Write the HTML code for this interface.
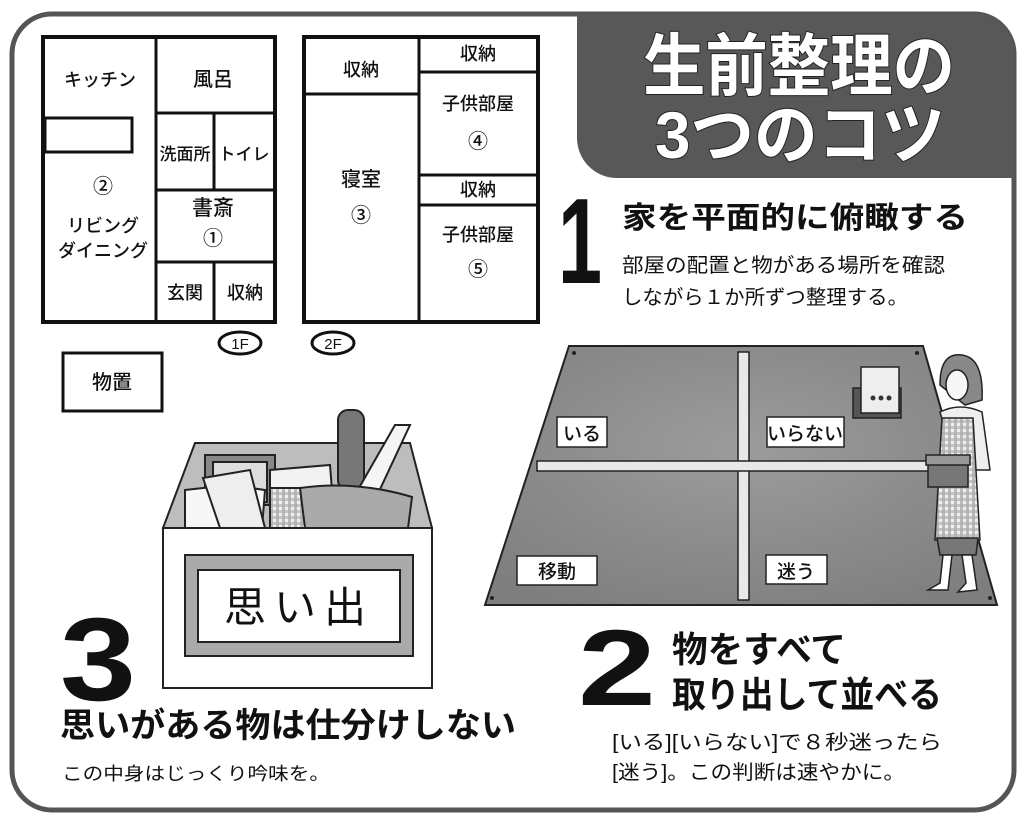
<!DOCTYPE html>
<html><head><meta charset="utf-8"><style>
html,body{margin:0;padding:0;background:#fff;}
svg{display:block;}
text{font-family:"Liberation Sans","Noto Sans CJK JP",sans-serif;}
.j{font-family:"Noto Sans CJK JP",sans-serif;}
</style></head><body>
<svg width="1024" height="824" viewBox="0 0 1024 824" xmlns="http://www.w3.org/2000/svg">
<defs>
<radialGradient id="mat" cx="50%" cy="40%" r="70%"><stop offset="0" stop-color="#9c9c9c"/><stop offset="1" stop-color="#7e7e7e"/></radialGradient>
<pattern id="chk" width="6" height="6" patternUnits="userSpaceOnUse"><rect width="6" height="6" fill="#eee"/><rect width="3" height="6" fill="#bbb"/><rect width="6" height="3" fill="#aaa" opacity=".6"/></pattern>
</defs>
<rect x="12" y="14" width="1002" height="796" rx="40" fill="#fff" stroke="#555" stroke-width="5"/>
<path d="M577 14 H974 A40 40 0 0 1 1014 54 V178 H617 A40 40 0 0 1 577 138 Z" fill="#585858"/>
<g fill="#fff" stroke="#222" stroke-width="2" paint-order="stroke" font-weight="bold" class="j">
<text x="643" y="90" font-size="68" textLength="312" lengthAdjust="spacingAndGlyphs">生前整理の</text>
<text x="655" y="158" font-size="66" textLength="290" lengthAdjust="spacingAndGlyphs">3つのコツ</text>
</g>

<g fill="none" stroke="#111" stroke-width="3">
<rect x="43" y="37" width="232" height="285" stroke-width="4"/>
<line x1="156" y1="37" x2="156" y2="322"/>
<rect x="45" y="118" width="87" height="34"/>
<line x1="156" y1="113" x2="275" y2="113"/>
<line x1="214" y1="113" x2="214" y2="190"/>
<line x1="156" y1="190" x2="275" y2="190"/>
<line x1="156" y1="262" x2="275" y2="262"/>
<line x1="214" y1="262" x2="214" y2="322"/>
<rect x="304" y="37" width="234" height="285" stroke-width="4"/>
<line x1="419" y1="37" x2="419" y2="322"/>
<line x1="304" y1="94" x2="419" y2="94"/>
<line x1="419" y1="72" x2="538" y2="72"/>
<line x1="419" y1="175" x2="538" y2="175"/>
<line x1="419" y1="205" x2="538" y2="205"/>
<ellipse cx="240" cy="343" rx="21" ry="11"/>
<ellipse cx="333" cy="343" rx="21" ry="11"/>
<rect x="63" y="353" width="99" height="58"/>
</g>
<g class="j" font-size="18" font-weight="500" fill="#111" text-anchor="middle">
<text x="100" y="86">キッチン</text>
<text x="213" y="86" font-size="20">風呂</text>
<text x="185" y="160" font-size="17">洗面所</text>
<text x="244" y="160" font-size="17">トイレ</text>
<text x="103" y="193" font-size="20">②</text>
<text x="103" y="232">リビング</text>
<text x="103" y="257">ダイニング</text>
<text x="213" y="215" font-size="21">書斎</text>
<text x="213" y="245" font-size="20">①</text>
<text x="185" y="299">玄関</text>
<text x="245" y="299">収納</text>
<text x="361" y="76">収納</text>
<text x="478" y="60">収納</text>
<text x="478" y="110">子供部屋</text>
<text x="478" y="148" font-size="20">④</text>
<text x="478" y="196">収納</text>
<text x="478" y="241">子供部屋</text>
<text x="478" y="276" font-size="20">⑤</text>
<text x="361" y="186" font-size="20">寝室</text>
<text x="361" y="222" font-size="20">③</text>
<text x="240" y="349" font-size="15">1F</text>
<text x="333" y="349" font-size="15">2F</text>
<text x="112" y="389" font-size="20">物置</text>
</g>

<text x="558" y="283" font-size="122" font-weight="bold" textLength="44" lengthAdjust="spacingAndGlyphs" fill="#111">1</text>
<g class="j" fill="#111">
<text x="622" y="228" font-size="30" font-weight="bold" textLength="346" lengthAdjust="spacingAndGlyphs">家を平面的に俯瞰する</text>
<text x="622" y="272" font-size="20" textLength="323" lengthAdjust="spacingAndGlyphs">部屋の配置と物がある場所を確認</text>
<text x="622" y="304" font-size="20" textLength="286" lengthAdjust="spacingAndGlyphs">しながら１か所ずつ整理する。</text>
</g>

<polygon points="569,346 923,346 997,605 485,605" fill="url(#mat)" stroke="#222" stroke-width="2"/>
<g fill="#222"><circle cx="574" cy="353" r="2"/><circle cx="917" cy="353" r="2"/><circle cx="492" cy="598" r="2"/><circle cx="990" cy="598" r="2"/></g>
<rect x="738" y="352" width="11" height="248" fill="#e8e8e8" stroke="#222" stroke-width="1.5"/>
<rect x="537" y="461" width="395" height="10" fill="#e8e8e8" stroke="#222" stroke-width="1.5"/>
<g fill="#fff" stroke="#222" stroke-width="1.5">
<rect x="557" y="417" width="50" height="30"/>
<rect x="767" y="417" width="77" height="30"/>
<rect x="517" y="556" width="80" height="29"/>
<rect x="766" y="555" width="61" height="29"/>
</g>
<g class="j" font-size="19" font-weight="500" fill="#111" text-anchor="middle">
<text x="582" y="440">いる</text>
<text x="805" y="440">いらない</text>
<text x="557" y="578">移動</text>
<text x="796" y="578">迷う</text>
</g>
<rect x="853" y="388" width="48" height="30" fill="#555" stroke="#222" stroke-width="1.5"/>
<rect x="861" y="367" width="38" height="46" fill="#eee" stroke="#222" stroke-width="1.5"/>
<g fill="#333"><circle cx="873" cy="398" r="2.5"/><circle cx="881" cy="398" r="2.5"/><circle cx="889" cy="398" r="2.5"/></g>
<g stroke="#222" stroke-width="1.5">
<path d="M940 385 Q940 352 962 355 Q984 358 982 400 L965 405 Z" fill="#888"/>
<ellipse cx="957" cy="385" rx="11" ry="15" fill="#f7f7f7"/>
<path d="M940 412 Q960 402 982 412 L990 470 L975 470 L970 440 L948 440 Z" fill="#eee"/>
<path d="M942 418 L973 418 L980 540 L935 540 Z" fill="url(#chk)"/>
<path d="M937 538 L978 538 L976 555 L940 555 Z" fill="#777"/>
<path d="M943 555 L940 583 L928 590 L948 590 L952 555 Z M962 555 L966 583 L958 592 L977 590 L972 555 Z" fill="#fff"/>
<rect x="928" y="462" width="40" height="25" fill="#777"/>
<rect x="926" y="455" width="44" height="10" fill="#999"/>
</g>

<text x="578" y="705" font-size="108" font-weight="bold" textLength="78" lengthAdjust="spacingAndGlyphs" fill="#111">2</text>
<g class="j" fill="#111">
<text x="672" y="662" font-size="36" font-weight="bold" textLength="174" lengthAdjust="spacingAndGlyphs">物をすべて</text>
<text x="672" y="707" font-size="36" font-weight="bold" textLength="270" lengthAdjust="spacingAndGlyphs">取り出して並べる</text>
<text x="612" y="749" font-size="20" textLength="330" lengthAdjust="spacingAndGlyphs">[いる][いらない]で８秒迷ったら</text>
<text x="612" y="779" font-size="20" textLength="293" lengthAdjust="spacingAndGlyphs">[迷う]。この判断は速やかに。</text>
</g>

<g stroke="#222" stroke-width="2">
<polygon points="195,443 410,443 432,528 163,528" fill="#bdbdbd"/>
<rect x="205" y="455" width="70" height="50" fill="#888"/>
<rect x="213" y="462" width="54" height="40" fill="#ddd"/>
<path d="M270 470 L330 465 L335 528 L270 528 Z" fill="#f2f2f2"/>
<rect x="270" y="488" width="38" height="40" fill="url(#chk)"/>
<rect x="338" y="410" width="26" height="80" rx="10" fill="#777"/>
<path d="M355 495 L395 425 L410 425 L375 500 Z" fill="#f5f5f5"/>
<path d="M300 488 Q355 480 412 497 L408 528 L305 528 Z" fill="#aaa"/>
<path d="M185 490 L230 485 L265 490 L262 528 L185 528 Z" fill="#f7f7f7"/>
<path d="M203 478 L250 470 L265 528 L220 528 Z" fill="#eee"/>
<rect x="163" y="528" width="269" height="160" fill="#fff"/>
<rect x="185" y="555" width="228" height="101" fill="#aaa"/>
<rect x="198" y="570" width="202" height="72" fill="#fff"/>
</g>
<text x="299" y="622" class="j" font-size="42" text-anchor="middle" fill="#111" letter-spacing="8">思い出</text>

<text x="60" y="700" font-size="118" font-weight="bold" textLength="76" lengthAdjust="spacingAndGlyphs" fill="#111">3</text>
<g class="j" fill="#111">
<text x="60" y="737" font-size="34" font-weight="bold" textLength="456" lengthAdjust="spacingAndGlyphs">思いがある物は仕分けしない</text>
<text x="62" y="780" font-size="18" textLength="268" lengthAdjust="spacingAndGlyphs">この中身はじっくり吟味を。</text>
</g>
</svg>
</body></html>
